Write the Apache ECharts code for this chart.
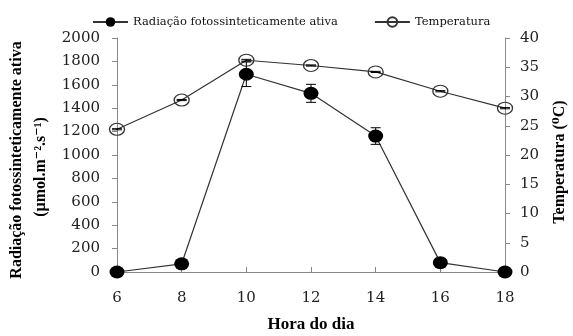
<!DOCTYPE html>
<html><head><meta charset="utf-8">
<script src="https://cdn.jsdelivr.net/npm/echarts@6/dist/echarts.min.js"></script>
<style>html,body{margin:0;padding:0;background:#fff}#c{width:573px;height:336px}</style>
</head><body><div id="c"></div>
<script>
var hours = [6, 8, 10, 12, 14, 16, 18];
var radiation = [0, 70, 1690, 1527, 1162, 80, 0];
var radiationErr = [0, 0, 105, 77, 71, 0, 0];
var temperature = [24.4, 29.4, 36.2, 35.3, 34.2, 30.9, 28.0];
var temperatureErr = [0.1, 0.1, 0.15, 0.1, 0.1, 0.1, 0.1];
var leftTicks = [0, 200, 400, 600, 800, 1000, 1200, 1400, 1600, 1800, 2000];
var rightTicks = [0, 5, 10, 15, 20, 25, 30, 35, 40];
var xTitle = 'Hora do dia';
var leftTitle1 = 'Radiação fotossinteticamente ativa';
var leftTitle2 = '(μmol.m⁻².s⁻¹)';
var rightTitle = 'Temperatura (⁰C)';

var serif = '"Liberation Serif", "DejaVu Serif", serif';
var tickFont = '"DejaVu Serif", serif';
var chart = echarts.init(document.getElementById('c'));

function pairs(xs, ys) { return xs.map(function (x, i) { return [x, ys[i]]; }); }
function errData(xs, ys, es) { return xs.map(function (x, i) { return [x, ys[i] - es[i], ys[i] + es[i]]; }).filter(function (d, i) { return es[i] > 0; }); }
function errRender(capW) {
  return function (params, api) {
    var x = api.value(0);
    var lo = api.coord([x, api.value(1)]);
    var hi = api.coord([x, api.value(2)]);
    var st = { stroke: '#000', lineWidth: 1, fill: null };
    return { type: 'group', children: [
      { type: 'line', shape: { x1: lo[0], y1: lo[1], x2: hi[0], y2: hi[1] }, style: st },
      { type: 'line', shape: { x1: lo[0] - capW, y1: lo[1], x2: lo[0] + capW, y2: lo[1] }, style: st },
      { type: 'line', shape: { x1: hi[0] - capW, y1: hi[1], x2: hi[0] + capW, y2: hi[1] }, style: st }
    ] };
  };
}
function title(text, x, y, rot, size) {
  return { type: 'text', x: x, y: y, rotation: rot, silent: true,
    style: { text: text, fontFamily: serif, fontSize: size, fontWeight: 'bold', fill: '#000', align: 'center', verticalAlign: 'middle' } };
}

var axisLabelStyle = { fontFamily: tickFont, fontSize: 15, color: '#222' };
chart.setOption({
  animation: false,
  textStyle: { fontFamily: serif },
  legend: {
    top: 11, left: 87, itemGap: 36, itemWidth: 35, itemHeight: 12,
    textStyle: { fontFamily: tickFont, fontSize: 11.5, color: '#111' },
    data: ['Radiação fotossinteticamente ativa', 'Temperatura']
  },
  grid: { left: 117, right: 68, top: 38, bottom: 64, containLabel: false, outerBoundsMode: 'none' },
  graphic: [
    title(leftTitle1, 17, 160, Math.PI / 2, 16),
    title(leftTitle2, 41, 167, Math.PI / 2, 16),
    title(rightTitle, 560, 162, Math.PI / 2, 16),
    title(xTitle, 311, 325, 0, 17)
  ],
  xAxis: {
    type: 'value', min: 6, max: 18, interval: 2,
    axisLine: { lineStyle: { color: '#888' } },
    axisTick: { inside: true, length: 5, lineStyle: { color: '#888' } },
    axisLabel: Object.assign({ margin: 19 }, axisLabelStyle),
    splitLine: { show: false }
  },
  yAxis: [{
    type: 'value', min: leftTicks[0], max: leftTicks[leftTicks.length - 1], interval: 200,
    axisLine: { show: true, lineStyle: { color: '#888' } },
    axisTick: { show: true, length: 5, lineStyle: { color: '#888' } },
    axisLabel: Object.assign({ margin: 17, formatter: function (v) { return String(v); } }, axisLabelStyle),
    splitLine: { show: false }
  }, {
    type: 'value', min: rightTicks[0], max: rightTicks[rightTicks.length - 1], interval: 5,
    axisLine: { show: true, lineStyle: { color: '#888' } },
    axisTick: { show: true, length: 5, lineStyle: { color: '#888' } },
    axisLabel: Object.assign({ margin: 15, formatter: function (v) { return String(v); } }, axisLabelStyle),
    splitLine: { show: false }
  }],
  series: [{
    name: 'Radiação fotossinteticamente ativa', type: 'line', yAxisIndex: 0,
    data: pairs(hours, radiation),
    symbol: 'circle', symbolSize: [15, 13], z: 3,
    itemStyle: { color: '#000' },
    lineStyle: { color: '#333', width: 1.2 }
  }, {
    name: 'Temperatura', type: 'line', yAxisIndex: 1,
    data: pairs(hours, temperature),
    symbol: 'circle', symbolSize: [15, 12], z: 4,
    itemStyle: { color: 'rgba(255,255,255,0)', borderColor: '#333', borderWidth: 1.2 },
    lineStyle: { color: '#333', width: 1.2 }
  }, {
    type: 'custom', yAxisIndex: 0, z: 5,
    data: errData(hours, radiation, radiationErr),
    renderItem: errRender(5), silent: true
  }, {
    type: 'custom', yAxisIndex: 1, z: 5,
    data: errData(hours, temperature, temperatureErr),
    renderItem: errRender(5), silent: true
  }]
});
</script></body></html>
